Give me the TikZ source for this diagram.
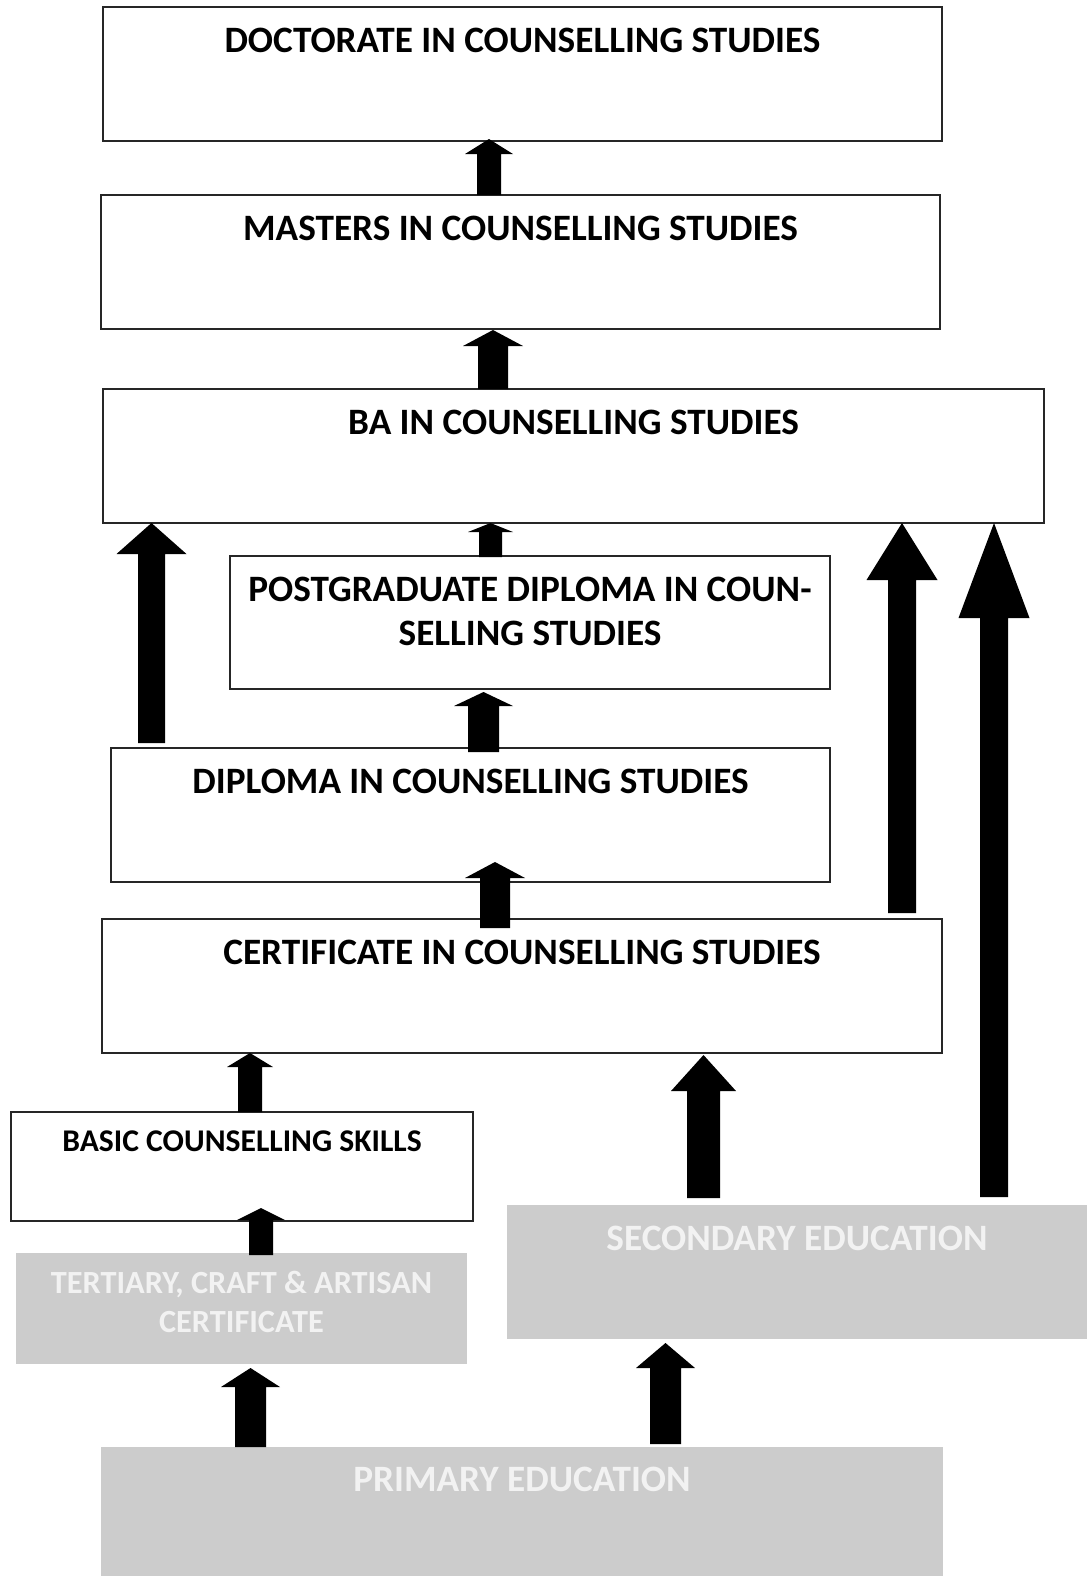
\documentclass[tikz,border=0pt]{standalone}
\usepackage{fontspec}
\setmainfont{Carlito}
\usetikzlibrary{calc}

\definecolor{boxline}{HTML}{262626}
\definecolor{eduback}{HTML}{CCCCCC}
\definecolor{edutext}{HTML}{F2F2F2}

\tikzset{
  stage/.style={draw=boxline, line width=0.7pt, fill=white, inner sep=0pt, outer sep=0pt, anchor=north west},
  school/.style={fill=eduback, inner sep=0pt, outer sep=0pt, anchor=north west},
  dims/.style 2 args={minimum width=#1*0.02cm, minimum height=#2*0.02cm},
  title/.style={font=\fontsize{21.2}{25}\selectfont\bfseries, inner sep=0pt, anchor=base},
  small title/.style={font=\fontsize{18}{22}\selectfont\bfseries, inner sep=0pt, anchor=base},
  pale/.style={text=edutext},
}

% block arrow: x, from, to, bottom shift, tip shift, half shaft, half head, head length
\newcommand{\upblock}[8]{%
  \fill[black] let \p1=(#2), \p2=(#3), \p3=(#1,0), \p4=(#6,#4), \p5=(#7,#5), \p6=(0,#8) in
    (\x3-\x4,\y1+\y4) -- (\x3-\x4,\y2+\y5+\y6) -- (\x3-\x5,\y2+\y5+\y6)
    -- (\x3,\y2+\y5) -- (\x3+\x5,\y2+\y5+\y6) -- (\x3+\x4,\y2+\y5+\y6)
    -- (\x3+\x4,\y1+\y4) -- cycle;}

\begin{document}
\begin{tikzpicture}[x=0.02cm, y=-0.02cm]
\useasboundingbox (0,0) rectangle (1087,1576);

% counselling stages
\node[stage, dims={839}{134}] (doct) at (103,7) {};
\node[stage, dims={839}{134}] (mast) at (101,195) {};
\node[stage, dims={941}{134}] (ba) at (103,389) {};
\node[stage, dims={600}{133}] (pgd) at (230,556) {};
\node[stage, dims={719}{134}] (dip) at (111,748) {};
\node[stage, dims={840}{134}] (cert) at (102,919) {};
\node[stage, dims={462}{109}] (basic) at (11,1112) {};

% entry levels
\node[school, dims={451}{111}] (tert) at (16,1253) {};
\node[school, dims={580}{134}] (sec) at (507,1205) {};
\node[school, dims={842}{129}] (prim) at (101,1447) {};

% titles
\node[title] (doct-t) at ($(doct.north)+(0,45)$) {DOCTORATE IN COUNSELLING STUDIES};
\node[title] (mast-t) at ($(mast.north)+(0,45)$) {MASTERS IN COUNSELLING STUDIES};
\node[title] (ba-t) at ($(ba.north)+(0,45)$) {BA IN COUNSELLING STUDIES};
\node[title] (pgd-t1) at ($(pgd.north)+(0,45)$) {POSTGRADUATE DIPLOMA IN COUN-};
\node[title] (pgd-t2) at ($(pgd.north)+(0,89)$) {SELLING STUDIES};
\node[title] (dip-t) at ($(dip.north)+(0,45)$) {DIPLOMA IN COUNSELLING STUDIES};
\node[title] (cert-t) at ($(cert.north)+(0,45)$) {CERTIFICATE IN COUNSELLING STUDIES};
\node[small title] (basic-t) at ($(basic.north)+(0,39)$) {BASIC COUNSELLING SKILLS};
\node[small title, pale, font=\fontsize{18.4}{22}\selectfont\bfseries] (tert-t1) at ($(tert.north)+(0,40)$) {TERTIARY, CRAFT \& ARTISAN};
\node[small title, pale, font=\fontsize{18.4}{22}\selectfont\bfseries] (tert-t2) at ($(tert.north)+(0,79)$) {CERTIFICATE};
\node[title, pale] (sec-t) at ($(sec.north)+(0,45)$) {SECONDARY EDUCATION};
\node[title, pale] (prim-t) at ($(prim.north)+(0,44)$) {PRIMARY EDUCATION};

% progression arrows
\upblock{489}{mast.north}{doct.south}{0}{-2}{12}{24}{15}
\upblock{493}{ba.north}{mast.south}{0}{1}{15}{30}{16}
\upblock{490.5}{pgd.north}{ba.south}{1}{0}{11.5}{22.5}{9}
\upblock{483.5}{dip.north}{pgd.south}{4}{3}{15.5}{29.5}{14}
\upblock{151.5}{dip.north}{ba.south}{-5}{0}{13.5}{35}{31}
\upblock{495}{cert.north}{dip.south}{9}{-20}{15}{30}{16}
\upblock{902}{cert.north}{ba.south}{-6}{0}{14}{35.5}{57}
\upblock{994}{sec.north}{ba.south}{-8}{0}{14}{35.5}{95}
\upblock{250}{basic.north}{cert.south}{0}{0}{12}{23}{14}
\upblock{261}{tert.north}{basic.south}{2}{-13}{12}{24}{12}
\upblock{703.5}{sec.north}{cert.south}{-7}{2}{16.5}{32.5}{36}
\upblock{250.5}{prim.north}{tert.south}{0}{4}{15.5}{29.5}{19}
\upblock{665.5}{prim.north}{sec.south}{-3}{4}{15.5}{29.5}{25}
\end{tikzpicture}
\end{document}
